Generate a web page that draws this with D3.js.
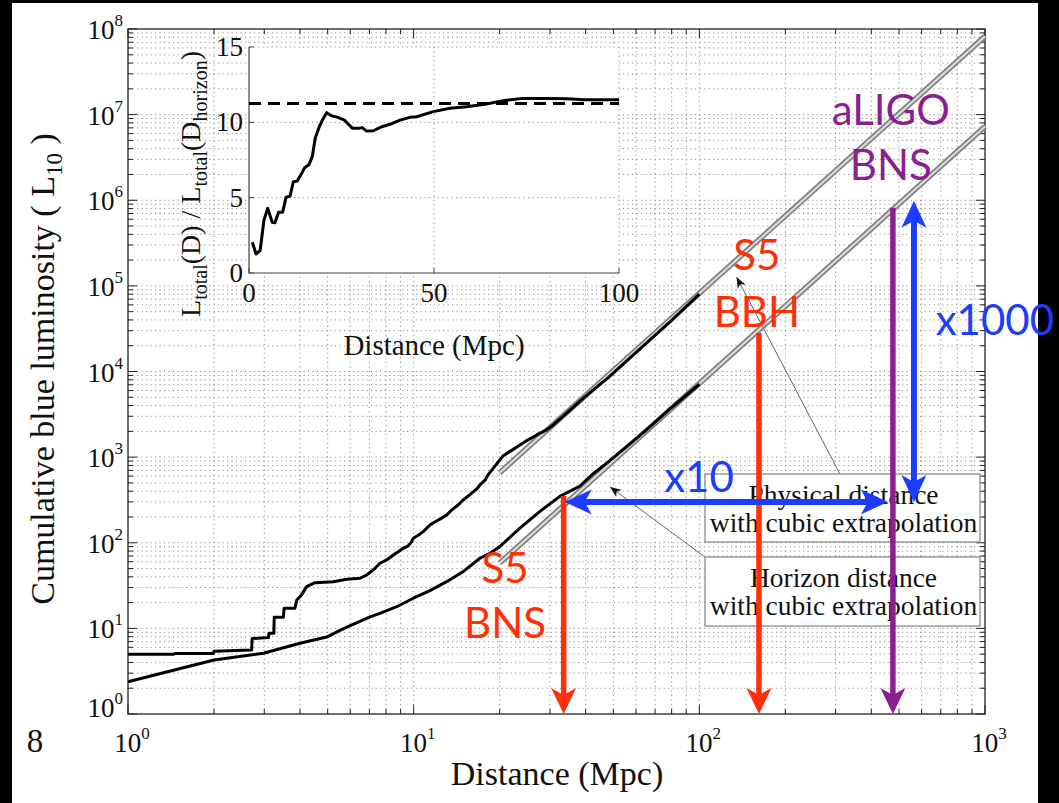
<!DOCTYPE html>
<html><head><meta charset="utf-8">
<script src="https://cdn.jsdelivr.net/npm/d3@7"></script>
<style>html,body{margin:0;padding:0;background:#000;} svg{display:block;}</style>
</head><body>
<svg id="chart" width="1059" height="803"></svg>
<script>
// ---------- DATA ----------
// Physical distance cumulative luminosity (upper black curve)
const physD = [1, 1.45, 1.46, 1.99, 2.0, 2.71, 2.72, 3.1, 3.12, 3.24, 3.25, 3.5, 3.52, 3.84, 3.9, 4.05, 4.22, 4.51, 5.23, 5.83, 6.49, 6.84, 7.22, 7.62, 8.04, 8.49, 8.83, 9.19, 9.57, 9.84, 9.97, 10.4, 10.8, 11.4, 11.9, 12.4, 13.05, 13.6, 14.3, 14.9, 15.7, 16.6, 17.06, 17.8, 18.2, 18.8, 19.5, 20.6, 21.7, 23.55, 24.9, 26.95, 29.2, 30.8, 34.3, 38.2, 42.5, 48, 55.7, 65, 80, 100];
const physL = [5.0, 5.0, 5.1, 5.1, 5.4, 5.6, 7.6, 7.8, 8.8, 8.8, 13.5, 13.5, 17.2, 17.2, 21.5, 24.6, 30.7, 34.2, 35, 37.5, 38.5, 42, 48, 57.6, 63, 72, 78.7, 86.2, 91.8, 103, 113, 123, 135, 161, 176, 190, 211, 242, 276, 316, 362, 422, 473, 542, 620, 709, 830, 1040, 1160, 1387, 1560, 1815, 2080, 2377, 3260, 4500, 6100, 8500, 13300, 21200, 39500, 80000];
// Horizon distance cumulative luminosity (lower black curve)
const horD = [1, 2, 2.98, 4.0, 5.0, 5.5, 6.0, 7.0, 7.62, 8.72, 9.97, 11.4, 13.05, 14.9, 17.06, 18.5, 20.0, 23.55, 27.6, 32.4, 38.2, 42.5, 48, 55.7, 65, 80, 100];
const horL = [2.38, 4.27, 5.12, 6.7, 8.0, 9.4, 10.8, 13.5, 15.0, 17.9, 22.5, 27.6, 35.1, 46, 65.9, 75.4, 90, 148, 231, 346, 460, 640, 880, 1330, 2050, 3800, 7100];
// Cubic extrapolations (grey lines), endpoints
const physExtD = [20, 1000];
const physExtL = [656, 8.2e7];
const horExtD = [20, 1000];
const horExtL = [58, 7.26e6];
// Inset: L_total(D)/L_total(D_horizon)
const insetD = [0.9, 1.9, 3.0, 4.05, 5.05, 6.3, 7.0, 8.0, 9.1, 10.0, 11.1, 12.0, 13.05, 14.05, 15.1, 16.2, 17.1, 17.9, 19.0, 20.1, 21.0, 22.3, 24.0, 25.8, 26.8, 28.0, 29.5, 30.6, 31.8, 33.6, 35.9, 38.1, 40.8, 43.5, 45.3, 49.8, 54.3, 58.8, 64.2, 68.7, 74.1, 80.5, 86.0, 90.4, 100];
const insetR = [2.04, 1.26, 1.48, 3.52, 4.29, 3.36, 3.33, 4.03, 4.03, 5.02, 5.11, 6.06, 6.11, 6.53, 7.01, 7.19, 7.72, 8.94, 9.71, 10.27, 10.64, 10.44, 10.33, 10.15, 9.89, 9.6, 9.6, 9.65, 9.42, 9.44, 9.71, 9.87, 10.15, 10.33, 10.37, 10.71, 10.93, 11.04, 11.22, 11.44, 11.59, 11.59, 11.57, 11.5, 11.5];
const insetAsymptote = 11.25;
// Ticks
const xTickExps = [0, 1, 2, 3];
const yTickExps = [0, 1, 2, 3, 4, 5, 6, 7, 8];
const insetXTicks = [0, 50, 100];
const insetYTicks = [0, 5, 10, 15];
// Vertical range arrows (detector reach)
const reachD = [33.5, 161.7, 476];
const reachTopL = [352, 28250, 8.15e5];
const reachColor = ["#ff3008", "#ff3008", "#8c1f8f"];
// Labels for the reach arrows
const labelText = ["S5", "BNS", "S5", "BBH", "aLIGO", "BNS", "x10", "x1000"];
const labelD = [20.9, 20.9, 159, 159, 468, 468, 99.7, 1083];
const labelL = [33.9, 7.7, 1.54e5, 3.3e4, 7.6e6, 1.73e6, 395, 26800];
const labelColor = ["#ff3008", "#ff3008", "#ff3008", "#ff3008", "#8c1f8f", "#8c1f8f", "#1c3cff", "#1c3cff"];
// Blue ratio arrows
const ratioH = {D: [33.8, 457], L: [300, 300]};
const ratioV = {D: [564, 564], L: [300, 9.84e5]};
// Legend boxes and their pointers
const legendLines = [["Physical distance", "with cubic extrapolation"], ["Horizon distance", "with cubic extrapolation"]];
const pointerTipD = [135, 48.7], pointerTipL = [1.27e5, 449];
const pointerEndD = [310.5, 104.6], pointerEndL = [637, 68.2];

// ---------- SETUP ----------
const svg = d3.select("#chart");
const SERIF = "'Liberation Serif','Times New Roman',serif";
const SANS = "Lato,'Open Sans',sans-serif";
svg.append("rect").attr("width", 1059).attr("height", 803).attr("fill", "#000");
svg.append("rect").attr("x", 12).attr("y", 3).attr("width", 1026).attr("height", 800).attr("fill", "#fff");

const x = d3.scaleLog().domain([1, 1000]).range([128, 985]);
const y = d3.scaleLog().domain([1, 1e8]).range([714, 29]);
const [X0, X1] = x.range(), [Y0, Y1] = y.range();

// grid (major + minor, dotted)
const xMinor = [], yMinor = [];
for (let k = 0; k < 3; k++) for (let m = 1; m < 10; m++) xMinor.push(m * Math.pow(10, k));
xMinor.push(1000);
for (let k = 0; k < 8; k++) for (let m = 1; m < 10; m++) yMinor.push(m * Math.pow(10, k));
yMinor.push(1e8);
const grid = svg.append("g").attr("stroke", "#8f8f8f").attr("stroke-width", 1).attr("stroke-dasharray", "1.2,3.3");
grid.selectAll(".gx").data(xMinor.filter(v => v > 1 && v < 1000)).join("line")
  .attr("x1", d => x(d)).attr("x2", d => x(d)).attr("y1", Y0).attr("y2", Y1);
grid.selectAll(".gy").data(yMinor.filter(v => v > 1 && v < 1e8)).join("line")
  .attr("y1", d => y(d)).attr("y2", d => y(d)).attr("x1", X0).attr("x2", X1);

// ticks on all four sides (inward)
const isMajor = v => Math.abs(Math.log10(v) - Math.round(Math.log10(v))) < 1e-9;
const tk = svg.append("g").attr("stroke", "#222").attr("stroke-width", 1);
xMinor.forEach(v => {
  const L = isMajor(v) ? 9 : 5;
  tk.append("line").attr("x1", x(v)).attr("x2", x(v)).attr("y1", Y0).attr("y2", Y0 - L);
  tk.append("line").attr("x1", x(v)).attr("x2", x(v)).attr("y1", Y1).attr("y2", Y1 + L);
});
yMinor.forEach(v => {
  const L = isMajor(v) ? 9 : 5;
  tk.append("line").attr("y1", y(v)).attr("y2", y(v)).attr("x1", X0).attr("x2", X0 + L);
  tk.append("line").attr("y1", y(v)).attr("y2", y(v)).attr("x1", X1).attr("x2", X1 - L);
});
svg.append("rect").attr("x", X0).attr("y", Y1).attr("width", X1 - X0).attr("height", Y0 - Y1)
  .attr("fill", "none").attr("stroke", "#222").attr("stroke-width", 1.3);

// tick labels
function powLabel(g, px, py, exp, anchor) {
  const t = g.append("text").attr("x", px).attr("y", py).attr("text-anchor", anchor)
    .attr("font-family", SERIF).attr("font-size", 27).attr("fill", "#111");
  t.append("tspan").text("10");
  t.append("tspan").attr("font-size", 17).attr("dy", -13).text(exp);
}
const lab = svg.append("g");
xTickExps.forEach(e => powLabel(lab, x(Math.pow(10, e)) + 4, 752, e, "middle"));
yTickExps.forEach(e => powLabel(lab, 123, y(Math.pow(10, e)) + (e === 0 ? 3 : 10), e, "end"));

// axis titles
svg.append("text").attr("x", 557).attr("y", 785).attr("text-anchor", "middle")
  .attr("font-family", SERIF).attr("font-size", 34).attr("fill", "#111").text("Distance (Mpc)");
const yt = svg.append("text").attr("transform", "translate(54,369) rotate(-90)").attr("text-anchor", "middle")
  .attr("font-family", SERIF).attr("font-size", 34).attr("fill", "#111");
yt.append("tspan").text("Cumulative blue luminosity ( L");
yt.append("tspan").attr("font-size", 23).attr("dy", 8).text("10");
yt.append("tspan").attr("dy", -8).text(" )");
svg.append("text").attr("x", 35).attr("y", 752).attr("text-anchor", "middle")
  .attr("font-family", SERIF).attr("font-size", 33).attr("fill", "#111").text("8");

// ---------- curves ----------
const line = d3.line().x(d => x(d[0])).y(d => y(d[1]));
function tube(D, L) {
  const pts = D.map((d, i) => [d, L[i]]);
  svg.append("path").attr("d", line(pts)).attr("fill", "none").attr("stroke", "#7d7d7d").attr("stroke-width", 5.5);
  svg.append("path").attr("d", line(pts)).attr("fill", "none").attr("stroke", "#d9d9d9").attr("stroke-width", 2.2);
}
tube(physExtD, physExtL);
tube(horExtD, horExtL);
[[physD, physL], [horD, horL]].forEach(([D, L]) => {
  svg.append("path").attr("d", line(D.map((d, i) => [d, L[i]])))
    .attr("fill", "none").attr("stroke", "#000").attr("stroke-width", 3).attr("stroke-linejoin", "round");
});

// ---------- inset ----------
const ix = d3.scaleLinear().domain([0, 100]).range([249, 619]);
const iy = d3.scaleLinear().domain([0, 15]).range([273, 47]);
const ins = svg.append("g");
ins.append("rect").attr("x", ix(0)).attr("y", iy(15)).attr("width", ix(100) - ix(0)).attr("height", iy(0) - iy(15)).attr("fill", "#fff");
const ig = ins.append("g").attr("stroke", "#8f8f8f").attr("stroke-dasharray", "1.2,3.3");
insetYTicks.filter(v => v > 0).forEach(v => ig.append("line").attr("x1", ix(0)).attr("x2", ix(100)).attr("y1", iy(v)).attr("y2", iy(v)));
insetXTicks.filter(v => v > 0).forEach(v => ig.append("line").attr("x1", ix(v)).attr("x2", ix(v)).attr("y1", iy(0)).attr("y2", iy(15)));
ins.append("path").attr("d", `M${ix(0)},${iy(15)}V${iy(0)}H${ix(100)}`).attr("fill", "none").attr("stroke", "#444").attr("stroke-width", 1.2);
insetYTicks.forEach(v => ins.append("line").attr("x1", ix(0)).attr("x2", ix(0) + 5).attr("y1", iy(v)).attr("y2", iy(v)).attr("stroke", "#444"));
insetXTicks.forEach(v => ins.append("line").attr("x1", ix(v)).attr("x2", ix(v)).attr("y1", iy(0)).attr("y2", iy(0) - 5).attr("stroke", "#444"));
insetYTicks.forEach(v => ins.append("text").attr("x", 243).attr("y", iy(v) + 9).attr("text-anchor", "end")
  .attr("font-family", SERIF).attr("font-size", 27).attr("fill", "#111").text(v));
insetXTicks.forEach(v => ins.append("text").attr("x", ix(v)).attr("y", 302).attr("text-anchor", "middle")
  .attr("font-family", SERIF).attr("font-size", 27).attr("fill", "#111").text(v));
ins.append("line").attr("x1", ix(0)).attr("x2", ix(100)).attr("y1", iy(insetAsymptote)).attr("y2", iy(insetAsymptote))
  .attr("stroke", "#000").attr("stroke-width", 3).attr("stroke-dasharray", "12,7");
ins.append("path").attr("d", d3.line().x(d => ix(d[0])).y(d => iy(d[1]))(insetD.map((d, i) => [d, insetR[i]])))
  .attr("fill", "none").attr("stroke", "#000").attr("stroke-width", 3).attr("stroke-linejoin", "round");
ins.append("text").attr("x", 434).attr("y", 355).attr("text-anchor", "middle")
  .attr("font-family", SERIF).attr("font-size", 29).attr("fill", "#111").text("Distance (Mpc)");
const iyt = ins.append("text").attr("transform", "translate(200,184) rotate(-90)").attr("text-anchor", "middle")
  .attr("font-family", SERIF).attr("font-size", 28).attr("fill", "#111");
iyt.append("tspan").text("L");
iyt.append("tspan").attr("font-size", 20).attr("dy", 7).text("total");
iyt.append("tspan").attr("dy", -7).text("(D) / L");
iyt.append("tspan").attr("font-size", 20).attr("dy", 7).text("total");
iyt.append("tspan").attr("dy", -7).text("(D");
iyt.append("tspan").attr("font-size", 20).attr("dy", 7).text("horizon");
iyt.append("tspan").attr("dy", -7).text(")");

// ---------- legend boxes & pointers ----------
function head(g, tx, ty, ang, len, hw, notch, color) {
  const c = Math.cos(ang), s = Math.sin(ang);
  const P = (a, b) => [tx - a * c + b * s, ty - a * s - b * c];
  const pts = [P(0, 0), P(len, hw), P(len - notch, 0), P(len, -hw)];
  g.append("path").attr("d", "M" + pts.map(p => p.join(",")).join("L") + "Z").attr("fill", color);
}
const leg = svg.append("g");
const boxes = [{x: 705, y: 474, w: 275, h: 68}, {x: 705, y: 557, w: 275, h: 69}];
pointerTipD.forEach((d, i) => {
  const tx = x(d), ty = y(pointerTipL[i]), ex = x(pointerEndD[i]), ey = y(pointerEndL[i]);
  leg.append("line").attr("x1", tx).attr("y1", ty).attr("x2", ex).attr("y2", ey).attr("stroke", "#666").attr("stroke-width", 1);
  head(leg, tx, ty, Math.atan2(ty - ey, tx - ex), 11, 4.5, 3, "#111");
});
boxes.forEach((b, i) => {
  leg.append("rect").attr("x", b.x).attr("y", b.y).attr("width", b.w).attr("height", b.h)
    .attr("fill", "#fff").attr("stroke", "#8a8a8a").attr("stroke-width", 1.3);
  legendLines[i].forEach((t, j) => leg.append("text").attr("x", b.x + b.w / 2 + 1).attr("y", b.y + 30 + j * 28)
    .attr("text-anchor", "middle").attr("font-family", SERIF).attr("font-size", 27.5).attr("fill", "#111").text(t));
});

// ---------- coloured annotations ----------
const ann = svg.append("g");
reachD.forEach((d, i) => {
  const px = x(d), top = y(reachTopL[i]), bot = y(1);
  ann.append("line").attr("x1", px).attr("x2", px).attr("y1", top).attr("y2", bot - 18)
    .attr("stroke", reachColor[i]).attr("stroke-width", 5.5);
  head(ann, px, bot, Math.PI / 2, 26, 12.5, 7, reachColor[i]);
});
const BLUE = "#1c3cff";
function dbl(D, L) {
  const ax = x(D[0]), ay = y(L[0]), bx = x(D[1]), by = y(L[1]);
  const ang = Math.atan2(by - ay, bx - ax), c = Math.cos(ang), s = Math.sin(ang);
  ann.append("line").attr("x1", ax + 18 * c).attr("y1", ay + 18 * s).attr("x2", bx - 18 * c).attr("y2", by - 18 * s)
    .attr("stroke", BLUE).attr("stroke-width", 6);
  head(ann, ax, ay, ang + Math.PI, 27, 12.5, 7, BLUE);
  head(ann, bx, by, ang, 27, 12.5, 7, BLUE);
}
dbl(ratioH.D, ratioH.L);
dbl(ratioV.D, ratioV.L);
labelText.forEach((t, i) => ann.append("text").attr("x", x(labelD[i])).attr("y", y(labelL[i]))
  .attr("text-anchor", "middle").attr("font-family", SANS).attr("font-size", 42).attr("fill", labelColor[i]).text(t));
</script>
</body></html>
